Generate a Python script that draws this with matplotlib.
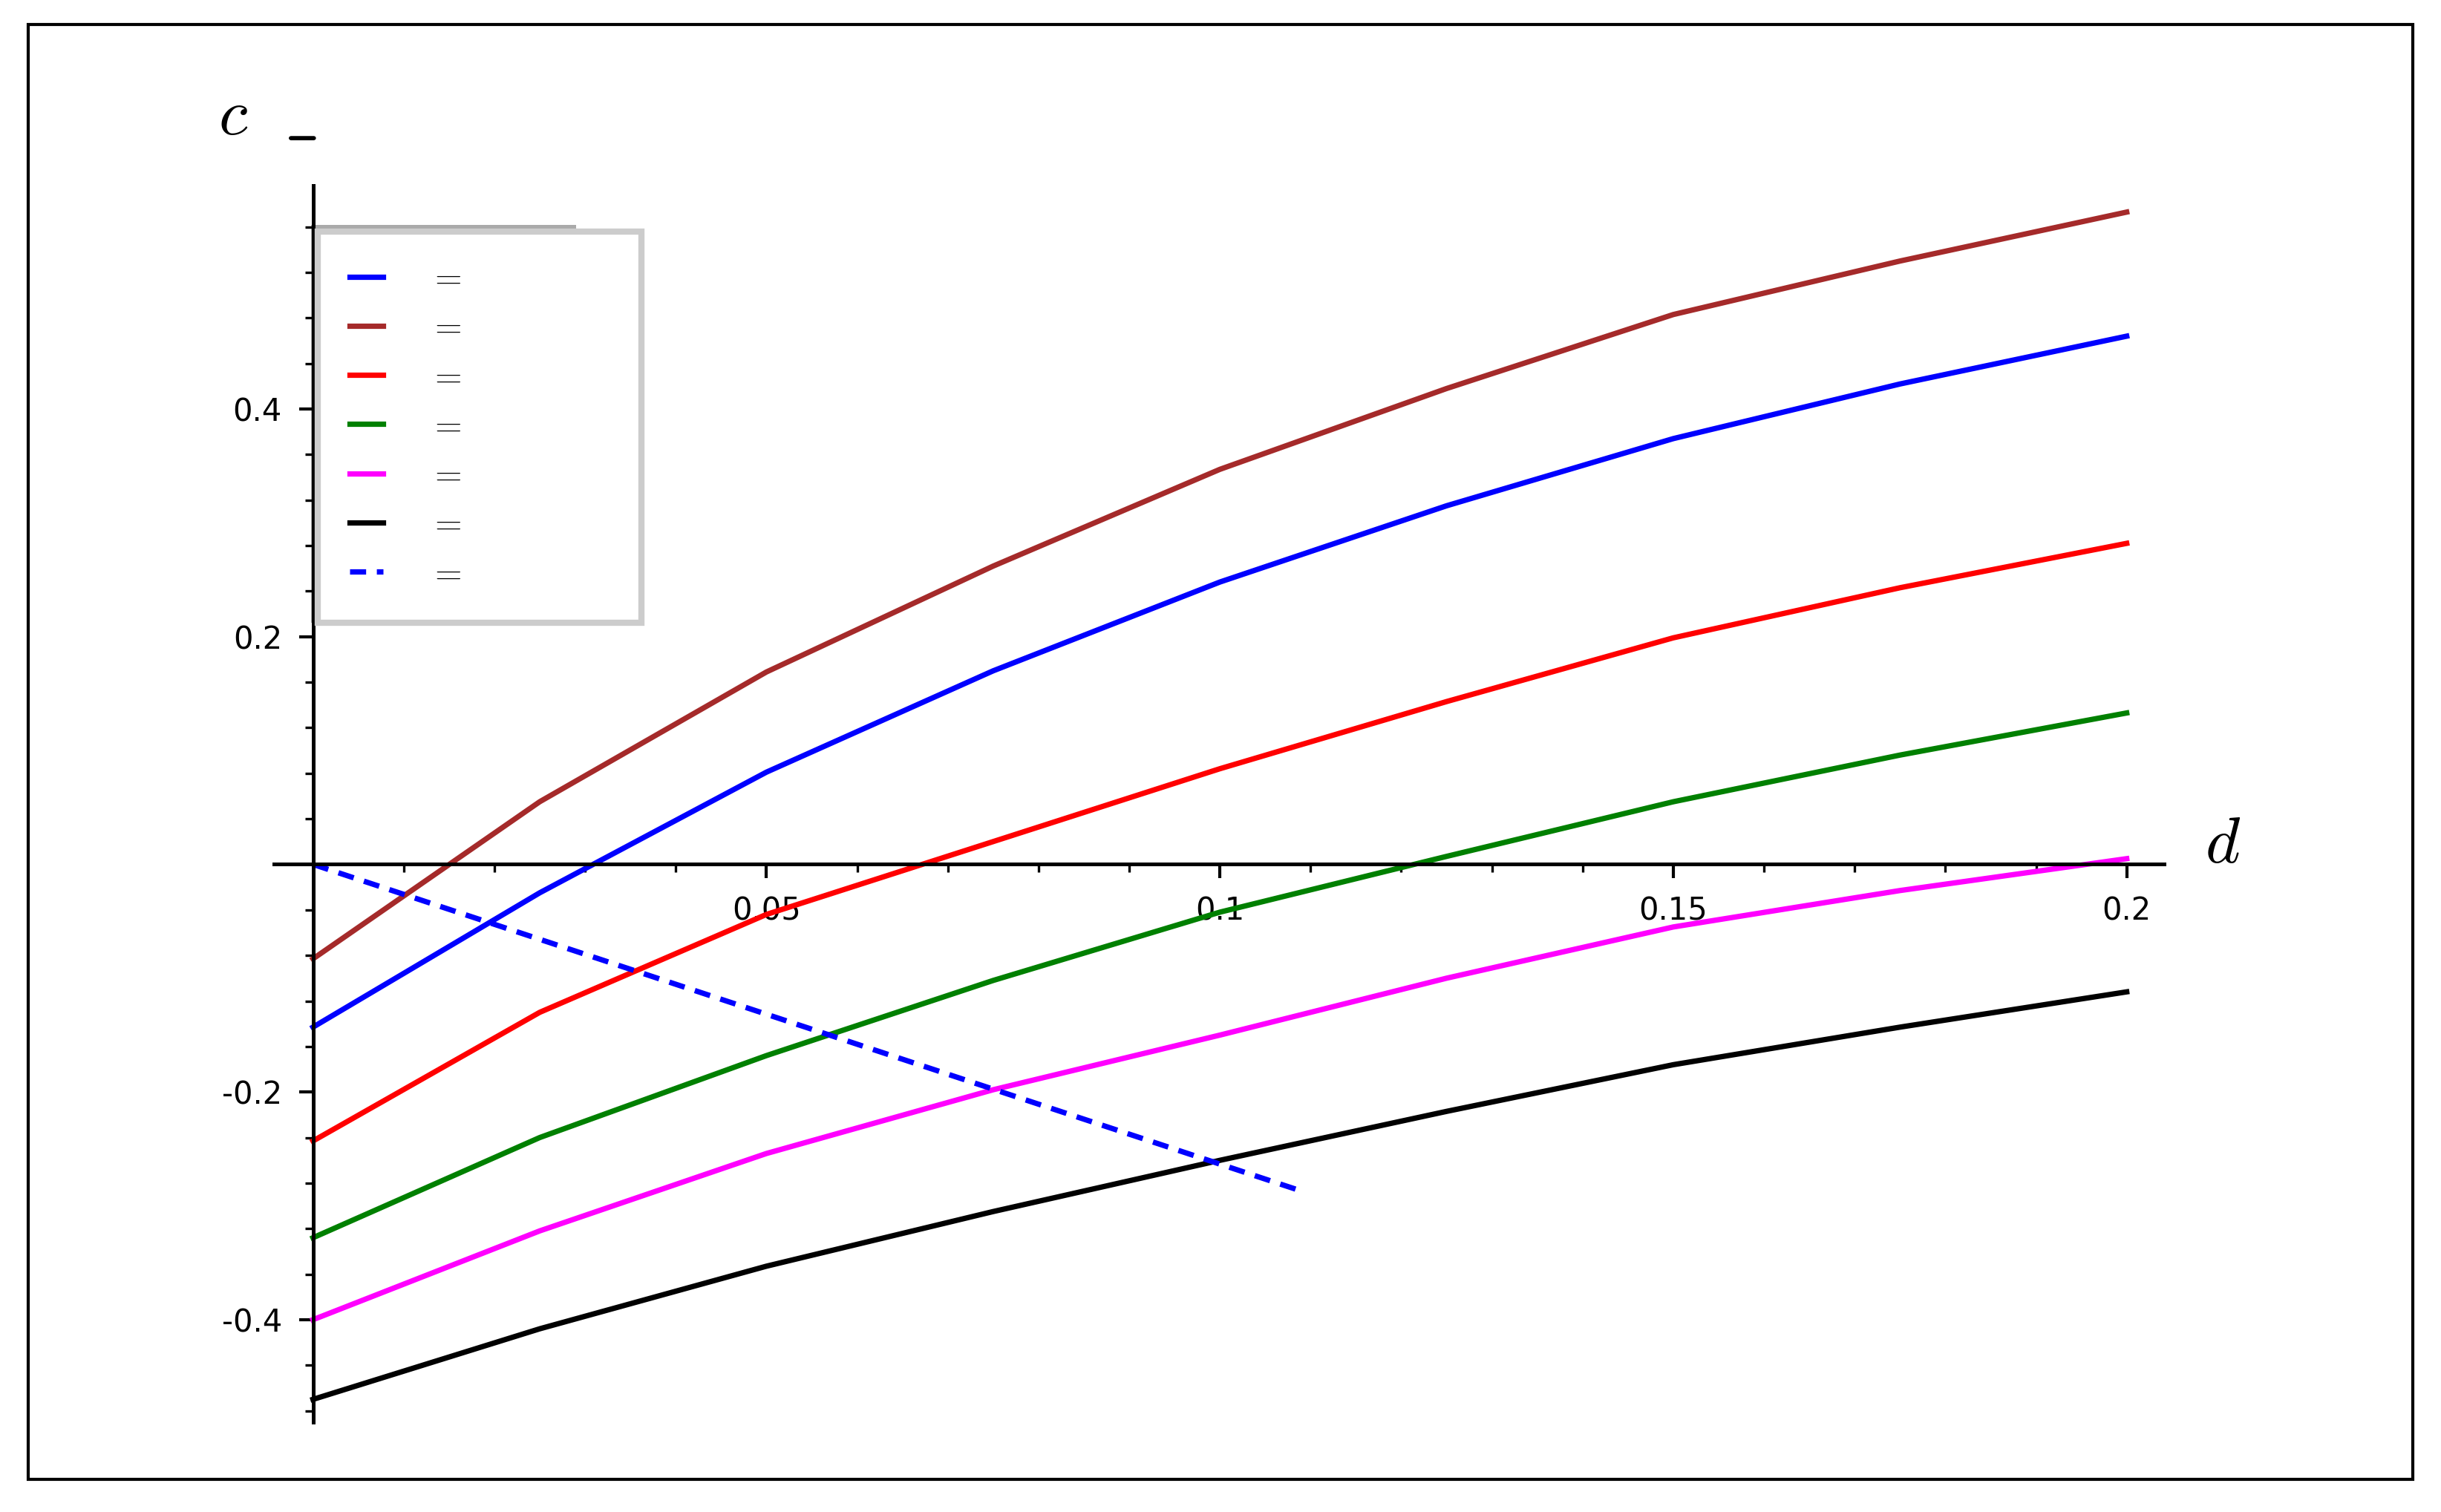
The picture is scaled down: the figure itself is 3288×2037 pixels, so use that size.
import matplotlib.pyplot as plt
from matplotlib.patches import Rectangle
from matplotlib.ticker import MultipleLocator, FixedLocator

d = [0, 0.025, 0.05, 0.075, 0.1, 0.125, 0.15, 0.175, 0.2]
c_brown = [-0.083, 0.055, 0.169, 0.262, 0.347, 0.418, 0.483, 0.53, 0.573]
c_blue = [-0.143, -0.025, 0.081, 0.17, 0.248, 0.315, 0.374, 0.422, 0.464]
c_red = [-0.243, -0.13, -0.044, 0.02, 0.084, 0.143, 0.199, 0.243, 0.282]
c_green = [-0.328, -0.24, -0.168, -0.102, -0.042, 0.007, 0.055, 0.096, 0.133]
c_magenta = [-0.4, -0.322, -0.254, -0.198, -0.15, -0.1, -0.055, -0.023, 0.005]
c_black = [-0.47, -0.408, -0.353, -0.305, -0.26, -0.217, -0.176, -0.143, -0.112]
d_dash = [0, 0.109]
c_dash = [0, -0.287]

plt.rcParams['mathtext.fontset'] = 'cm'
W, H = 1568, 976
fig = plt.figure(figsize=(16.44, 10.185), dpi=200)
fig.patches.append(Rectangle((18/W, 1-955/H), (1550-18)/W, (955-16)/H,
                             transform=fig.transFigure, fill=False, lw=1.5, ec='black'))
# legend shadow
fig.patches.append(Rectangle((200/W, 1-402/H), 170/W, 257/H, transform=fig.transFigure,
                             fc='#aaaaaa', ec='none', zorder=-1))

# axes box: x from px 176 to 1390, y from px 120 to 918
ax = fig.add_axes([176/W, 1-918/H, (1390-176)/W, (918-120)/H])
ax.patch.set_visible(False)
ax.set_xlim(-0.0043, 0.2041)
ax.set_ylim(-0.49, 0.596)

lw = 2.6
lab = '$=$' + '\u2003' * 5
ax.plot(d, c_blue, color='blue', lw=lw, label=lab)
ax.plot(d, c_brown, color='#a52a2a', lw=lw, label=lab)
ax.plot(d, c_red, color='red', lw=lw, label=lab)
ax.plot(d, c_green, color='green', lw=lw, label=lab)
ax.plot(d, c_magenta, color='magenta', lw=lw, label=lab)
ax.plot(d, c_black, color='black', lw=lw, label=lab)
ax.plot(d_dash, c_dash, color='blue', lw=lw, ls=(0, (3, 2)), label=lab)

for s in ['top', 'right']:
    ax.spines[s].set_visible(False)
ax.spines['left'].set_position(('data', 0))
ax.spines['bottom'].set_position(('data', 0))
ax.spines['left'].set_linewidth(1.8)
ax.spines['bottom'].set_linewidth(1.8)

ax.xaxis.set_major_locator(FixedLocator([0.05, 0.1, 0.15, 0.2]))
ax.xaxis.set_minor_locator(MultipleLocator(0.01))
ax.yaxis.set_major_locator(FixedLocator([-0.4, -0.2, 0.2, 0.4]))
ax.yaxis.set_minor_locator(MultipleLocator(0.04))
ax.set_xticklabels(['0.05', '0.1', '0.15', '0.2'])
ax.set_yticklabels(['-0.4', '-0.2', '0.2', '0.4'])
ax.tick_params(which='major', length=7, width=1.5, labelsize=15, pad=8)
ax.tick_params(which='minor', length=4, width=1.2)
ax.tick_params(axis='x', which='both', direction='out')

fig.text(150/W, 1-75/H, r'$c$', fontsize=32, ha='center', va='center')
fig.text(193/W, 1-75/H, r'$\_$', fontsize=32, ha='center', va='center')
fig.text(1428/W, 1-545/H, r'$d$', fontsize=32, ha='center', va='center')

leg = ax.legend(loc='upper left', bbox_to_anchor=(193/W, 1-138/H),
                bbox_transform=fig.transFigure, fontsize=17, handlelength=0.95,
                handletextpad=1.3, labelspacing=0.45, borderpad=0.9,
                fancybox=False, framealpha=1, edgecolor='#cccccc')
leg.get_frame().set_linewidth(3)

fig.savefig('out.png', dpi=200)
